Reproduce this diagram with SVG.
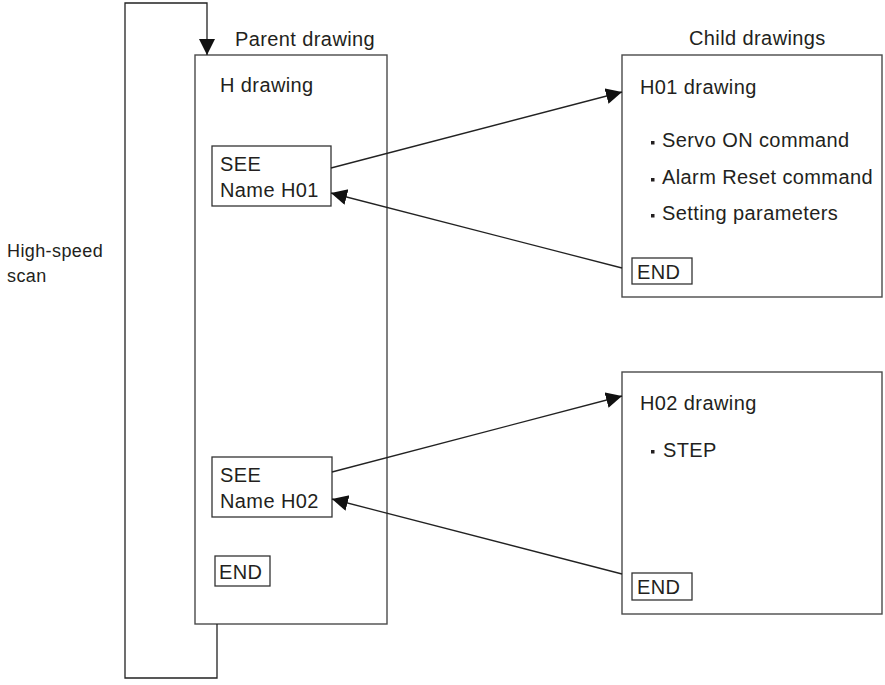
<svg xmlns="http://www.w3.org/2000/svg" width="885" height="685" viewBox="0 0 885 685">
<style>
  .box { fill: #ffffff; stroke: #4a4a4a; stroke-width: 1.4; }
  .sub { fill: #ffffff; stroke: #333333; stroke-width: 1.3; }
  .conn { fill: none; stroke: #222222; stroke-width: 1.3; }
  text { font-family: "Liberation Sans", Arial, sans-serif; font-size: 20px; letter-spacing: 0.4px; fill: #231f20; }
  .small { font-size: 18px; }
  .bullet { fill: #231f20; }
</style>
<defs>
  <marker id="arrow" markerUnits="userSpaceOnUse" markerWidth="17" markerHeight="17" refX="16" refY="8" orient="auto">
    <path d="M0,0 L16,8 L0,16 z" fill="#111111"/>
  </marker>
</defs>

<text x="7" y="257" class="small">High-speed</text>
<text x="7" y="282" class="small">scan</text>

<text x="235" y="46">Parent drawing</text>
<text x="689" y="45">Child drawings</text>

<g id="parent">
  <rect class="box" x="195" y="55" width="192" height="569"/>
  <text x="220" y="92">H drawing</text>
  <g id="see1">
    <rect class="sub" x="212" y="146" width="119" height="60"/>
    <text x="220" y="171">SEE</text>
    <text x="220" y="197">Name H01</text>
  </g>
  <g id="see2">
    <rect class="sub" x="212" y="457" width="120" height="60"/>
    <text x="220" y="482">SEE</text>
    <text x="220" y="508">Name H02</text>
  </g>
  <g id="end-parent">
    <rect class="sub" x="215" y="556" width="55" height="30"/>
    <text x="219" y="579">END</text>
  </g>
</g>

<g id="child1">
  <rect class="box" x="622" y="55" width="260" height="242"/>
  <text x="640" y="94">H01 drawing</text>
  <rect class="bullet" x="651" y="141" width="3.5" height="3.5"/>
  <text x="662" y="147">Servo ON command</text>
  <rect class="bullet" x="651" y="178" width="3.5" height="3.5"/>
  <text x="662" y="184">Alarm Reset command</text>
  <rect class="bullet" x="651" y="214" width="3.5" height="3.5"/>
  <text x="662" y="220">Setting parameters</text>
  <rect class="sub" x="632" y="258" width="60" height="26"/>
  <text x="637" y="279">END</text>
</g>

<g id="child2">
  <rect class="box" x="622" y="372" width="260" height="242"/>
  <text x="640" y="410">H02 drawing</text>
  <rect class="bullet" x="651" y="450" width="3.5" height="3.5"/>
  <text x="663" y="457">STEP</text>
  <rect class="sub" x="632" y="573" width="60" height="27"/>
  <text x="637" y="594">END</text>
</g>

<g id="connectors">
  <path class="conn" d="M217,624 V678 H125 V3 H207 V55" marker-end="url(#arrow)"/>
  <line class="conn" x1="331" y1="168" x2="622" y2="92" marker-end="url(#arrow)"/>
  <line class="conn" x1="622" y1="268" x2="331" y2="193" marker-end="url(#arrow)"/>
  <line class="conn" x1="332" y1="472" x2="622" y2="396" marker-end="url(#arrow)"/>
  <line class="conn" x1="622" y1="574" x2="332" y2="499" marker-end="url(#arrow)"/>
</g>
</svg>
